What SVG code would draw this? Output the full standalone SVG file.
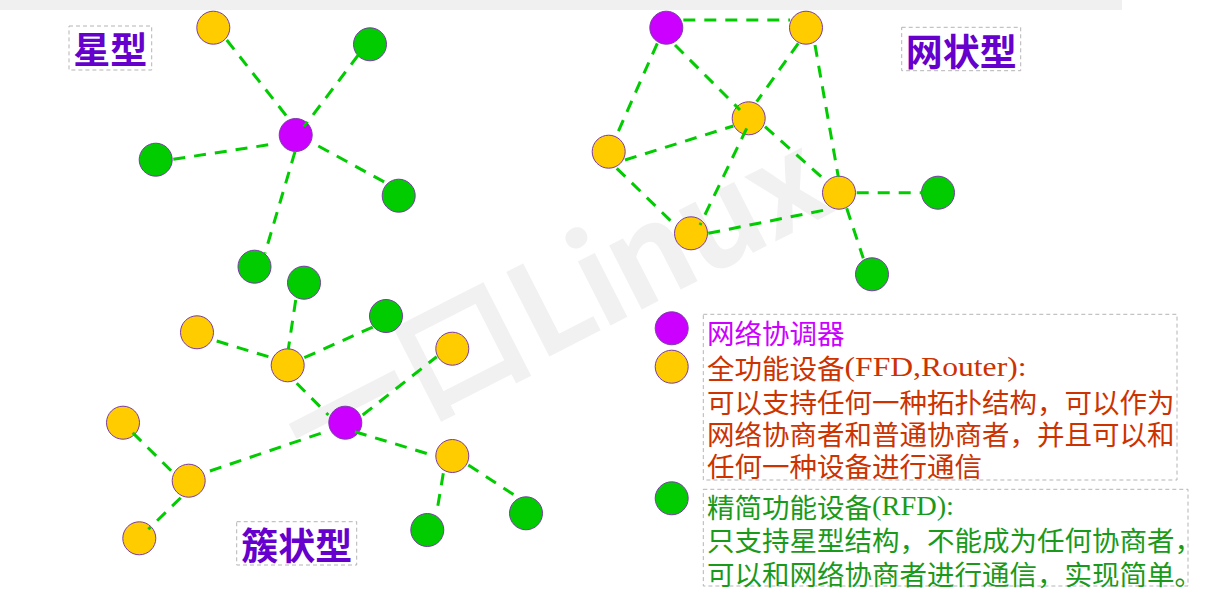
<svg xmlns="http://www.w3.org/2000/svg" width="1220" height="602" viewBox="0 0 1220 602">
<style>
.bg{fill:#ffffff}
.bar{fill:#f0f0f0}
.wm{fill:#f1f1f1;font-family:"Noto Sans CJK SC","Noto Sans",sans-serif;font-weight:bold;font-size:128px}
.n{stroke:#7a3aa8;stroke-width:1}
.mag{fill:#cc00ff}
.org{fill:#ffcc00}
.grn{fill:#00cc00}
.e{stroke:#00cc00;stroke-width:3;stroke-dasharray:12 9;fill:none}
.box{fill:none;stroke:#b4b4b4;stroke-width:1;stroke-dasharray:4 3}
.title{fill:#6600cc;font-family:"Noto Sans CJK SC",sans-serif;font-weight:bold;font-size:37px;text-anchor:middle;dominant-baseline:central}
.lg{font-family:"Noto Sans CJK SC",sans-serif;font-size:27.5px;dominant-baseline:central}
.lat{font-family:"Liberation Serif",serif;font-size:27px}
.tm{fill:#cc00ff}
.to{fill:#cc3300}
.tg{fill:#1a9a1a}
</style>
<rect class="bg" x="0" y="0" width="1220" height="602"/>
<rect class="bar" x="0" y="0" width="1122" height="10"/>
<g id="watermark" transform="translate(311 478) rotate(-27)">
<text class="wm" x="0" y="0">一</text>
<text class="wm" x="128" y="0">口</text>
<text class="wm" x="256" y="0">L</text>
<text class="wm" x="326" y="0">i</text>
<text class="wm" x="361" y="0">n</text>
<text class="wm" x="440" y="0">u</text>
<text class="wm" x="519" y="0">x</text>
</g>

<g id="nodes">
<g id="star-center"><circle class="n mag" cx="295.7" cy="135" r="16.5"/></g>
<g id="star-1"><circle class="n org" cx="213.3" cy="27.7" r="16.5"/></g>
<g id="star-2"><circle class="n grn" cx="370" cy="44.3" r="16.5"/></g>
<g id="star-3"><circle class="n grn" cx="155.7" cy="159.7" r="16.5"/></g>
<g id="star-4"><circle class="n grn" cx="398.7" cy="195.7" r="16.5"/></g>
<g id="star-5"><circle class="n grn" cx="254.5" cy="266.7" r="16.5"/></g>

<g id="mesh-center"><circle class="n mag" cx="666.3" cy="27.7" r="16.5"/></g>
<g id="mesh-1"><circle class="n org" cx="806" cy="27.7" r="16.5"/></g>
<g id="mesh-2"><circle class="n org" cx="748.7" cy="118.3" r="16.5"/></g>
<g id="mesh-3"><circle class="n org" cx="608.7" cy="151.7" r="16.5"/></g>
<g id="mesh-4"><circle class="n org" cx="839" cy="192.7" r="16.5"/></g>
<g id="mesh-5"><circle class="n grn" cx="938" cy="192.7" r="16.5"/></g>
<g id="mesh-6"><circle class="n org" cx="691" cy="233.3" r="16.5"/></g>
<g id="mesh-7"><circle class="n grn" cx="872" cy="274.3" r="16.5"/></g>

<g id="cluster-center"><circle class="n mag" cx="345.3" cy="422.7" r="16.5"/></g>
<g id="cluster-1"><circle class="n grn" cx="304" cy="282.7" r="16.5"/></g>
<g id="cluster-2"><circle class="n org" cx="197" cy="332.3" r="16.5"/></g>
<g id="cluster-3"><circle class="n grn" cx="386" cy="316" r="16.5"/></g>
<g id="cluster-4"><circle class="n org" cx="287.7" cy="365.3" r="16.5"/></g>
<g id="cluster-5"><circle class="n org" cx="452.3" cy="348.7" r="16.5"/></g>
<g id="cluster-6"><circle class="n org" cx="123" cy="422.7" r="16.5"/></g>
<g id="cluster-7"><circle class="n org" cx="188.7" cy="480.7" r="16.5"/></g>
<g id="cluster-8"><circle class="n org" cx="452.3" cy="456" r="16.5"/></g>
<g id="cluster-9"><circle class="n grn" cx="526" cy="513.3" r="16.5"/></g>
<g id="cluster-10"><circle class="n org" cx="139.3" cy="538.3" r="16.5"/></g>
<g id="cluster-11"><circle class="n grn" cx="427.3" cy="530" r="16.5"/></g>

<g id="legend-coordinator"><circle class="n mag" cx="671.7" cy="328.3" r="16.5"/></g>
<g id="legend-ffd"><circle class="n org" cx="671.7" cy="366.7" r="16.5"/></g>
<g id="legend-rfd"><circle class="n grn" cx="671.7" cy="498.3" r="16.5"/></g>
</g>

<g id="connectors">
<line class="e" x1="226.7" y1="40" x2="288.3" y2="118.3"/>
<line class="e" x1="358.3" y1="55" x2="304" y2="126.7"/>
<line class="e" x1="173.3" y1="159.3" x2="271.7" y2="144.3"/>
<line class="e" x1="318.3" y1="146" x2="386.7" y2="183.3"/>
<line class="e" x1="295" y1="151.7" x2="265" y2="253.3"/>

<line class="e" x1="683.3" y1="20" x2="790" y2="20"/>
<line class="e" x1="657.3" y1="43.3" x2="616.7" y2="135"/>
<line class="e" x1="675" y1="45" x2="740" y2="110"/>
<line class="e" x1="798.3" y1="43.3" x2="756.7" y2="101.7"/>
<line class="e" x1="815" y1="45" x2="838.3" y2="176.7"/>
<line class="e" x1="625" y1="160" x2="733.3" y2="126"/>
<line class="e" x1="616.7" y1="168.3" x2="673.3" y2="223.3"/>
<line class="e" x1="746.7" y1="128.3" x2="700" y2="225"/>
<line class="e" x1="765" y1="126.7" x2="825" y2="180"/>
<line class="e" x1="708.3" y1="233.3" x2="828.3" y2="209.3"/>
<line class="e" x1="856.7" y1="192.7" x2="921.7" y2="192.7"/>
<line class="e" x1="846.7" y1="208.3" x2="863.3" y2="258.3"/>

<line class="e" x1="295.7" y1="300" x2="288.3" y2="349.3"/>
<line class="e" x1="216.7" y1="341" x2="271.7" y2="357.7"/>
<line class="e" x1="304.3" y1="357.7" x2="375" y2="326"/>
<line class="e" x1="296.7" y1="383.3" x2="328.3" y2="415"/>
<line class="e" x1="362.7" y1="415" x2="436.7" y2="356.7"/>
<line class="e" x1="355" y1="431.7" x2="428.3" y2="454"/>
<line class="e" x1="320.7" y1="433.3" x2="205" y2="472.7"/>
<line class="e" x1="132.7" y1="432.7" x2="172.7" y2="472.3"/>
<line class="e" x1="180.7" y1="497.7" x2="148.3" y2="529.3"/>
<line class="e" x1="443.3" y1="473.3" x2="437.7" y2="506.7"/>
<line class="e" x1="468.3" y1="465" x2="516.7" y2="496.7"/>
</g>

<g id="label-star">
<rect class="box" x="69" y="26" width="82.7" height="44"/>
<text class="title" x="110.3" y="48">星型</text>
</g>
<g id="label-mesh">
<rect class="box" x="901.7" y="27.3" width="119" height="43.4"/>
<text class="title" x="961.2" y="49.5">网状型</text>
</g>
<g id="label-cluster">
<rect class="box" x="236.7" y="521.7" width="120" height="43.3"/>
<text class="title" x="296.7" y="544">簇状型</text>
</g>

<g id="legend-text-1">
<rect class="box" x="703.3" y="314.3" width="473.7" height="165.7"/>
<text class="lg to"><tspan class="tm" x="707" y="331.5">网络协调器</tspan><tspan x="707" y="366.5">全功能设备</tspan><tspan class="lat" x="844.5" y="366.5" textLength="182" lengthAdjust="spacingAndGlyphs">(FFD,Router):</tspan><tspan x="707" y="400.5">可以支持任何一种拓扑结构，可以作为</tspan><tspan x="707" y="432.5">网络协商者和普通协商者，并且可以和</tspan><tspan x="707" y="465">任何一种设备进行通信</tspan></text>
</g>
<g id="legend-text-2">
<rect class="box" x="703.3" y="489.3" width="484.7" height="96.7"/>
<text class="lg tg"><tspan x="707" y="506">精简功能设备</tspan><tspan class="lat" x="872" y="506" textLength="82" lengthAdjust="spacingAndGlyphs">(RFD):</tspan><tspan x="707" y="539">只支持星型结构，不能成为任何协商者，</tspan><tspan x="707" y="572.5">可以和网络协商者进行通信，实现简单。</tspan></text>
</g>
</svg>
